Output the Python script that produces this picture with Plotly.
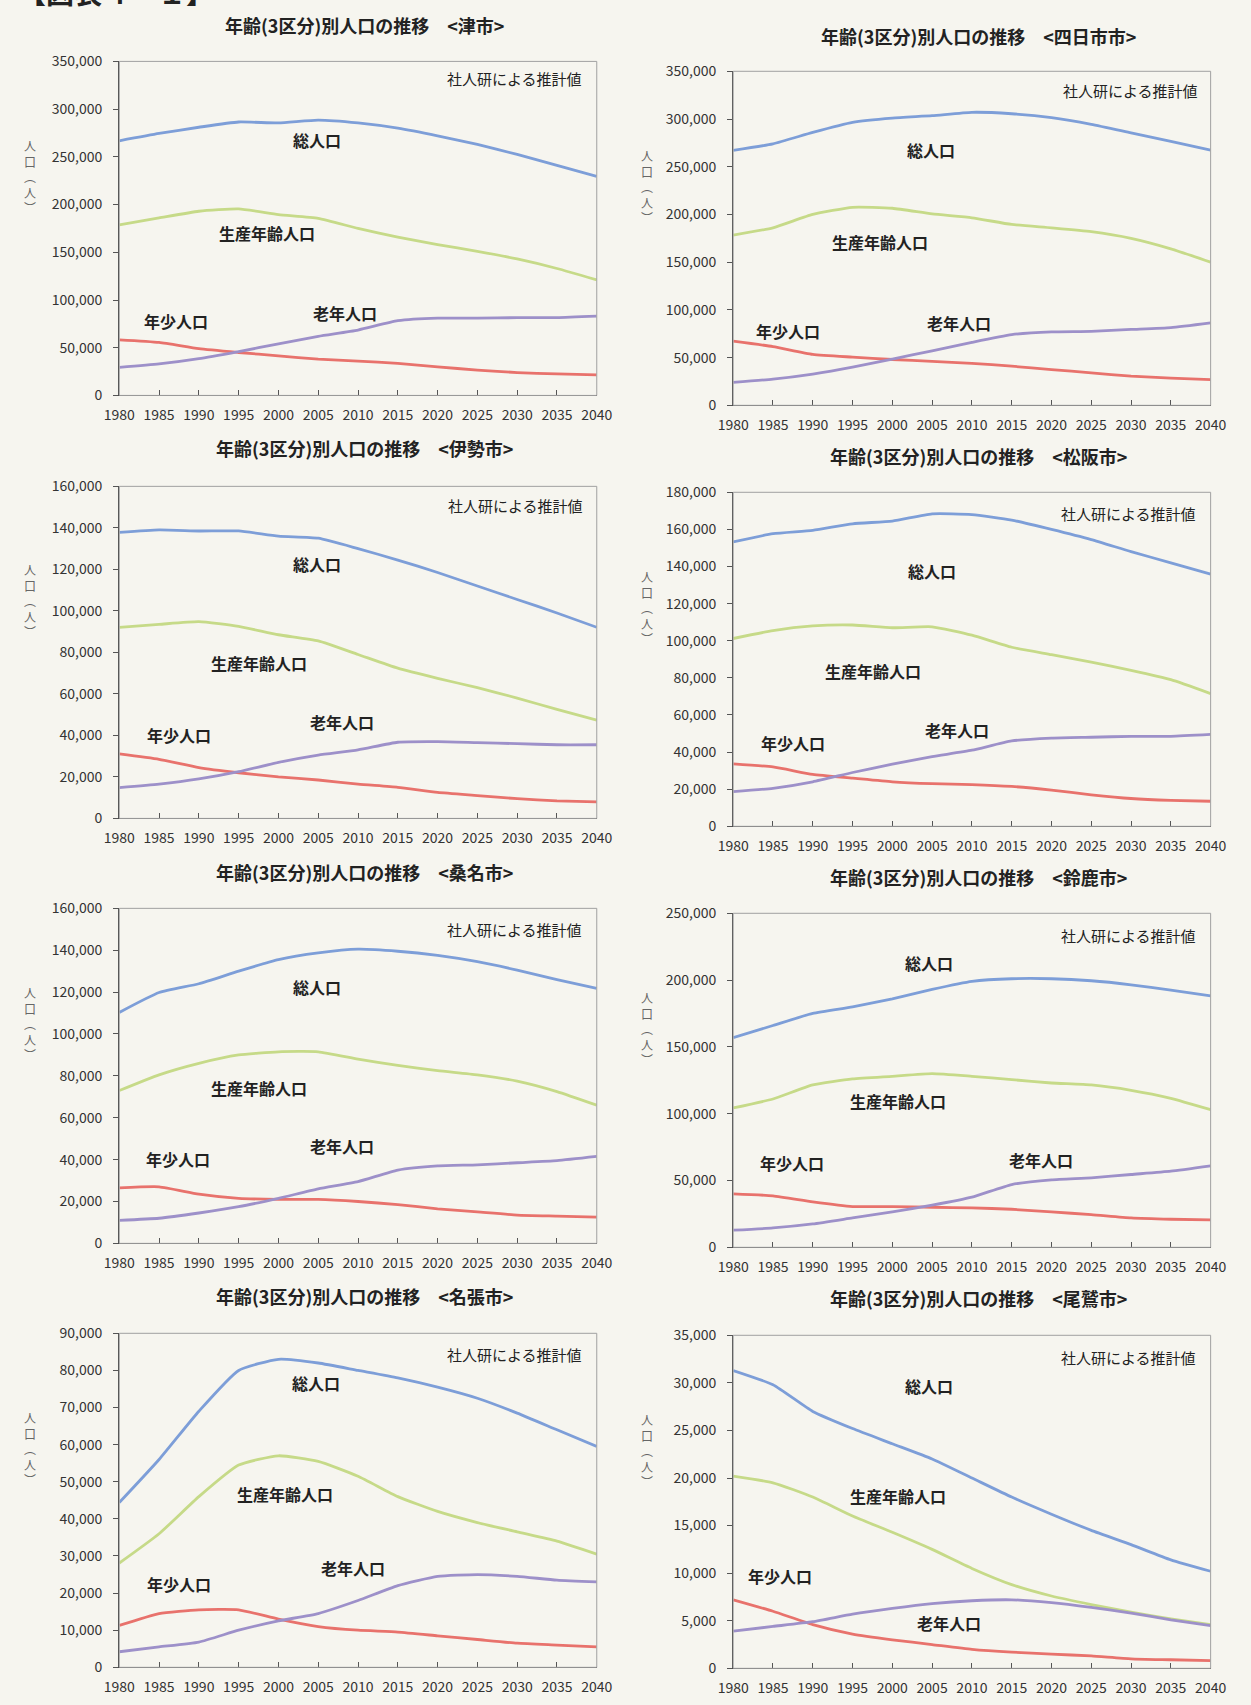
import plotly.graph_objects as go

# ---------------- data ----------------
years = [1980, 1985, 1990, 1995, 2000, 2005, 2010, 2015, 2020, 2025, 2030, 2035, 2040]
year_labels = [str(y) for y in years]

cities = ["津市", "四日市市", "伊勢市", "松阪市", "桑名市", "鈴鹿市", "名張市", "尾鷲市"]
y_max = [350000, 350000, 160000, 180000, 160000, 250000, 90000, 35000]
y_step = [50000, 50000, 20000, 20000, 20000, 50000, 10000, 5000]

series_names = ["総人口", "生産年齢人口", "年少人口", "老年人口"]

tsu_total = [266800, 274500, 281000, 286500, 285500, 288500, 285500, 280000, 272000, 263000, 252500, 241000, 229500]
tsu_working = [178800, 186000, 193000, 195500, 189500, 185500, 175000, 166000, 158000, 151000, 143000, 133000, 121000]
tsu_young = [58200, 55500, 49000, 45000, 41500, 38000, 36000, 33500, 30000, 26500, 24000, 22500, 21500]
tsu_old = [29500, 33000, 38500, 46000, 54000, 62000, 68500, 78300, 81000, 81000, 81500, 81500, 83000]

yokkaichi_total = [267200, 274000, 286000, 296500, 301000, 303500, 307000, 305500, 301500, 294500, 285500, 276500, 267500]
yokkaichi_working = [178300, 186000, 200000, 207500, 206500, 200500, 196500, 189500, 186000, 182000, 175000, 164000, 150000]
yokkaichi_young = [67200, 61500, 53400, 50500, 48000, 46000, 44000, 41000, 37500, 34000, 30500, 28500, 26900]
yokkaichi_old = [24100, 27500, 32800, 40000, 48500, 57000, 66000, 74100, 77000, 77500, 79500, 81500, 86500]

ise_total = [137800, 139000, 138500, 138500, 136000, 135000, 130000, 124500, 118500, 112000, 105500, 99000, 92100]
ise_working = [92100, 93500, 94800, 92500, 88500, 85500, 79000, 72400, 67500, 63000, 58000, 52500, 47300]
ise_young = [31100, 28500, 24500, 22000, 20000, 18500, 16500, 15000, 12500, 11000, 9500, 8500, 8000]
ise_old = [14800, 16500, 19000, 22500, 27000, 30500, 33000, 36700, 37000, 36500, 36000, 35500, 35500]

matsusaka_total = [153300, 157700, 159500, 163000, 164500, 168400, 168000, 165000, 160000, 154500, 148000, 142000, 135900]
matsusaka_working = [101200, 105500, 108000, 108500, 107000, 107500, 103000, 96500, 92500, 88500, 84000, 79000, 71500]
matsusaka_young = [33700, 32000, 28000, 26000, 24000, 23000, 22500, 21500, 19500, 17000, 15000, 14000, 13500]
matsusaka_old = [18700, 20500, 24000, 29000, 33500, 37500, 41000, 46000, 47500, 48000, 48500, 48500, 49500]

kuwana_total = [110300, 119800, 124000, 130000, 135500, 138700, 140500, 139500, 137500, 134500, 130500, 126000, 121800]
kuwana_working = [73000, 80500, 86000, 90000, 91500, 91500, 88000, 85000, 82500, 80500, 77500, 72500, 66000]
kuwana_young = [26500, 27000, 23500, 21500, 21000, 21000, 20000, 18500, 16500, 15000, 13500, 13000, 12500]
kuwana_old = [11000, 12000, 14500, 17500, 21500, 26000, 29500, 35000, 37000, 37500, 38500, 39500, 41500]

suzuka_total = [156900, 166000, 175100, 180000, 186000, 193000, 199000, 201000, 201000, 199500, 196500, 192500, 188200]
suzuka_working = [104300, 111000, 121500, 126000, 128000, 130000, 128000, 125500, 123000, 121500, 117500, 111500, 103000]
suzuka_young = [40000, 38500, 34000, 30500, 30500, 30000, 29500, 28500, 26500, 24500, 22000, 21000, 20500]
suzuka_old = [12800, 14500, 17500, 22000, 26500, 31500, 37500, 47000, 50500, 52000, 54500, 57000, 61000]

nabari_total = [44400, 56000, 69000, 80000, 83000, 82000, 80000, 78000, 75500, 72500, 68500, 64000, 59500]
nabari_working = [28100, 36000, 46000, 54500, 57000, 55500, 51500, 46000, 42000, 39000, 36500, 34000, 30500]
nabari_young = [11300, 14500, 15500, 15500, 13000, 11000, 10000, 9500, 8500, 7500, 6500, 6000, 5500]
nabari_old = [4200, 5500, 6800, 10000, 12500, 14500, 18000, 22000, 24500, 25000, 24500, 23500, 23000]

owase_total = [31300, 29800, 27000, 25200, 23600, 22000, 20000, 18000, 16200, 14500, 13000, 11400, 10200]
owase_working = [20200, 19500, 18000, 16000, 14300, 12500, 10500, 8800, 7600, 6700, 5900, 5200, 4600]
owase_young = [7200, 6000, 4600, 3600, 3000, 2500, 2000, 1700, 1500, 1300, 1000, 900, 800]
owase_old = [3900, 4400, 4900, 5700, 6300, 6800, 7100, 7200, 6900, 6400, 5800, 5100, 4500]

city_series = [
    [tsu_total, tsu_working, tsu_young, tsu_old],
    [yokkaichi_total, yokkaichi_working, yokkaichi_young, yokkaichi_old],
    [ise_total, ise_working, ise_young, ise_old],
    [matsusaka_total, matsusaka_working, matsusaka_young, matsusaka_old],
    [kuwana_total, kuwana_working, kuwana_young, kuwana_old],
    [suzuka_total, suzuka_working, suzuka_young, suzuka_old],
    [nabari_total, nabari_working, nabari_young, nabari_old],
    [owase_total, owase_working, owase_young, owase_old],
]

# ---------------- layout / style ----------------
W, H = 1251, 1705
colors = ["#7d9ed8", "#c6da88", "#e8726c", "#9d90c9"]
FONT = "Noto Sans CJK JP"

# plot areas in pixels: left, right, top, bottom
boxes = [
    (106, 596, 51, 389), (736, 1226, 61, 399),
    (106, 596, 481, 817), (736, 1226, 487, 825),
    (106, 596, 908, 1247), (736, 1226, 913, 1251),
    (106, 596, 1338, 1676), (736, 1226, 1340, 1677),
]
title_y = [14, 25, 442, 450, 871, 876, 1300, 1302]

# label positions inside each plot (fractions of plot area): total, working, young, old, note
label_pos = [
    [(0.415, 0.765), (0.309, 0.485), (0.118, 0.224), (0.472, 0.248), (0.974, 0.949)],
    [(0.415, 0.764), (0.308, 0.488), (0.115, 0.222), (0.472, 0.246), (0.977, 0.941)],
    [(0.415, 0.767), (0.293, 0.469), (0.126, 0.251), (0.467, 0.291), (0.976, 0.943)],
    [(0.416, 0.765), (0.293, 0.464), (0.125, 0.250), (0.469, 0.289), (0.973, 0.936)],
    [(0.415, 0.764), (0.293, 0.463), (0.122, 0.251), (0.467, 0.291), (0.974, 0.938)],
    [(0.411, 0.852), (0.345, 0.439), (0.123, 0.251), (0.644, 0.261), (0.973, 0.933)],
    [(0.413, 0.850), (0.348, 0.520), (0.126, 0.249), (0.490, 0.298), (0.974, 0.937)],
    [(0.411, 0.847), (0.345, 0.518), (0.099, 0.276), (0.452, 0.136), (0.973, 0.934)],
]

fig = go.Figure()
annotations = []
shapes = []
layout = {}

for i, (city, series) in enumerate(zip(cities, city_series)):
    n = i + 1
    xa = "x" if n == 1 else f"x{n}"
    ya = "y" if n == 1 else f"y{n}"
    L, R, T, B = boxes[i]
    for s_idx, vals in enumerate(series):
        fig.add_trace(go.Scatter(
            x=years, y=vals, mode="lines", xaxis=xa, yaxis=ya,
            line=dict(color=colors[s_idx], width=2.8, shape="spline", smoothing=0.5),
            showlegend=False, hoverinfo="skip", name=series_names[s_idx]))

    layout["xaxis" if n == 1 else f"xaxis{n}"] = dict(
        domain=[L / W, R / W], anchor=ya, range=[1980, 2040],
        tickmode="array", tickvals=years, ticktext=year_labels,
        tickfont=dict(family=FONT, size=14, color="#333"),
        showline=True, linecolor="#444", linewidth=1.3,
        ticks="inside", ticklen=5, tickcolor="#555", ticklabelstandoff=7,
        showgrid=False, zeroline=False, fixedrange=True)
    layout["yaxis" if n == 1 else f"yaxis{n}"] = dict(
        domain=[1 - B / H, 1 - T / H], anchor=xa, range=[0, y_max[i]],
        dtick=y_step[i], tick0=0, tickformat=",d",
        tickfont=dict(family=FONT, size=14, color="#333"),
        showline=True, linecolor="#444", linewidth=1.3,
        ticks="outside", ticklen=5, tickcolor="#555", ticklabelstandoff=8,
        showgrid=False, zeroline=False, fixedrange=True)

    # plot frame
    shapes.append(dict(type="rect", xref=f"{xa} domain", yref=f"{ya} domain",
                       x0=0, x1=1, y0=0, y1=1, line=dict(color="#a0a0a0", width=1)))

    # title
    annotations.append(dict(
        text=f"<b>年齢(3区分)別人口の推移\u3000<{city}></b>",
        xref="paper", yref="paper", x=((L + R) / 2 + 7) / W, y=1 - title_y[i] / H,
        xanchor="center", yanchor="middle", showarrow=False,
        font=dict(family=FONT, size=18, color="#222")))

    # y-axis title (vertical)
    ax_x = 14 if L < 600 else 648
    annotations.append(dict(
        text="人<br>口<br>︵<br>人<br>︶",
        xref="paper", yref="paper", x=ax_x / W, y=1 - (B - 0.655 * (B - T)) / H,
        xanchor="center", yanchor="middle", showarrow=False,
        font=dict(family=FONT, size=12, color="#666")))

    # series labels
    for s_idx, name in enumerate(series_names):
        fx, fy = label_pos[i][s_idx]
        annotations.append(dict(
            text=f"<b>{name}</b>", xref=f"{xa} domain", yref=f"{ya} domain",
            x=fx, y=fy, xanchor="center", yanchor="middle", showarrow=False,
            font=dict(family=FONT, size=16, color="#222")))
    fx, fy = label_pos[i][4]
    annotations.append(dict(
        text="社人研による推計値", xref=f"{xa} domain", yref=f"{ya} domain",
        x=fx, y=fy, xanchor="right", yanchor="middle", showarrow=False,
        font=dict(family=FONT, size=15, color="#222")))

# cut-off heading at the very top
annotations.append(dict(
    text="<b>【図表４－１】</b>", xref="paper", yref="paper", x=0.0, y=1 - 3 / H,
    xanchor="left", yanchor="bottom", showarrow=False,
    font=dict(family=FONT, size=28, color="#222")))

fig.update_layout(
    width=W, height=H, autosize=False,
    margin=dict(l=0, r=0, t=0, b=0),
    paper_bgcolor="#f6f5ef", plot_bgcolor="#f6f5ef",
    annotations=annotations, shapes=shapes, **layout)

fig.write_html("out.html", config={"displayModeBar": False},
               post_script="document.body.style.margin='0';document.body.style.overflow='hidden';")
